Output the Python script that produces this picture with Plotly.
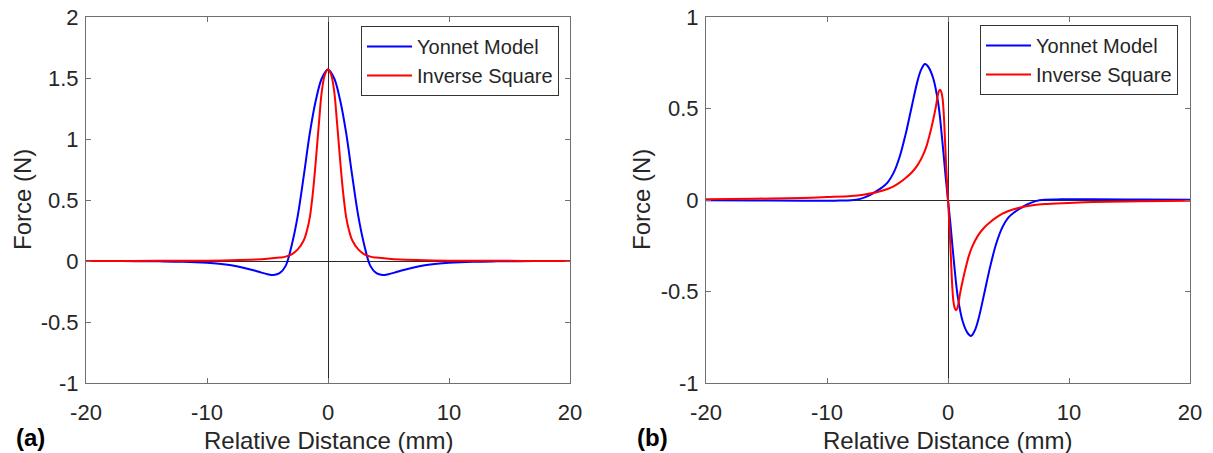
import plotly.graph_objects as go

# ---------------- data ----------------
# Panel (a): attraction force vs relative distance
a_yonnet_x = [-20, -17, -14, -12, -10, -9, -8, -7, -6, -5.5, -5, -4.5, -4, -3.5, -3, -2.5, -2, -1.5, -1, -0.5, 0,
              0.5, 1, 1.5, 2, 2.5, 3, 3.5, 4, 4.5, 5, 5.5, 6, 7, 8, 9, 10, 12, 14, 17, 20]
a_yonnet_y = [0, -0.001, -0.003, -0.006, -0.014, -0.022, -0.035, -0.055, -0.08, -0.095, -0.108, -0.115, -0.10, -0.04,
              0.13, 0.37, 0.70, 1.05, 1.32, 1.50, 1.57,
              1.50, 1.32, 1.05, 0.70, 0.37, 0.13, -0.04, -0.10, -0.115, -0.108, -0.095, -0.08, -0.055, -0.035,
              -0.022, -0.014, -0.006, -0.003, -0.001, 0]

a_inv_x = [-20, -16, -13, -10, -8, -6, -5, -4, -3.5, -3, -2.5, -2, -1.75, -1.5, -1.25, -1, -0.75, -0.5, -0.25, 0,
           0.25, 0.5, 0.75, 1, 1.25, 1.5, 1.75, 2, 2.5, 3, 3.5, 4, 5, 6, 8, 10, 13, 16, 20]
a_inv_y = [0.0004, 0.001, 0.0015, 0.003, 0.006, 0.012, 0.018, 0.028, 0.036, 0.055, 0.095, 0.17, 0.245, 0.36, 0.56,
           0.83, 1.13, 1.40, 1.53, 1.57,
           1.53, 1.40, 1.13, 0.83, 0.56, 0.36, 0.245, 0.17, 0.095, 0.055, 0.036, 0.028, 0.018, 0.012, 0.006,
           0.003, 0.0015, 0.001, 0.0004]

# Panel (b): lateral force vs relative distance
b_yonnet_x = [-20, -16, -12, -10, -9, -8, -7.25, -6.5, -6, -5.5, -5, -4.5, -4, -3.5, -3, -2.5, -2.2, -1.9, -1.6,
              -1.2, -0.8, -0.5, -0.2, 0,
              0.2, 0.5, 0.8, 1.2, 1.6, 1.9, 2.2, 2.5, 3, 3.5, 4, 4.5, 5, 5.5, 6, 6.5, 7.25, 8, 9, 10, 12, 16, 20]
b_yonnet_y = [-0.002, -0.003, -0.004, -0.004, -0.003, -0.001, 0.006, 0.025, 0.045, 0.066, 0.095, 0.148, 0.235,
              0.36, 0.51, 0.655, 0.715, 0.743, 0.725, 0.66, 0.525, 0.345, 0.13, 0,
              -0.13, -0.345, -0.525, -0.66, -0.725, -0.743, -0.715, -0.655, -0.51, -0.36, -0.235, -0.148, -0.095,
              -0.066, -0.045, -0.025, -0.006, 0.001, 0.003, 0.004, 0.004, 0.003, 0.002]

b_inv_x = [-20, -16, -12, -10, -8, -7, -6, -5, -4.5, -4, -3.5, -3, -2.5, -2, -1.75, -1.5, -1.25, -1, -0.85, -0.75,
           -0.66, -0.55, -0.45, -0.35, -0.25, -0.15, 0,
           0.15, 0.25, 0.35, 0.45, 0.55, 0.66, 0.75, 0.85, 1, 1.25, 1.5, 1.75, 2, 2.5, 3, 3.5, 4, 4.5, 5, 6, 7, 8,
           10, 12, 16, 20]
b_inv_y = [0.004, 0.007, 0.011, 0.016, 0.022, 0.029, 0.041, 0.060, 0.075, 0.095, 0.12, 0.15, 0.192, 0.255, 0.30,
           0.36, 0.43, 0.51, 0.57, 0.595, 0.603, 0.59, 0.555, 0.47, 0.33, 0.18, 0,
           -0.18, -0.33, -0.47, -0.555, -0.59, -0.603, -0.595, -0.57, -0.51, -0.43, -0.36, -0.30, -0.255, -0.192,
           -0.15, -0.12, -0.095, -0.075, -0.060, -0.041, -0.029, -0.022, -0.016, -0.011, -0.007, -0.004]

series_names = ["Yonnet Model", "Inverse Square"]
series_colors = ["#0000FF", "#FF0000"]

x_ticks = [-20, -10, 0, 10, 20]
x_ticktext = ["-20", "-10", "0", "10", "20"]
a_y_ticks = [-1, -0.5, 0, 0.5, 1, 1.5, 2]
a_y_ticktext = ["-1", "-0.5", "0", "0.5", "1", "1.5", "2"]
b_y_ticks = [-1, -0.5, 0, 0.5, 1]
b_y_ticktext = ["-1", "-0.5", "0", "0.5", "1"]

x_title = "Relative Distance (mm)"
y_title = "Force (N)"
panel_labels = ["(a)", "(b)"]

# ---------------- figure ----------------
W, H = 1213, 453
FONT = "Arial, Liberation Sans, sans-serif"
AXC = "#707070"
TXT = "#262626"

fig = go.Figure()
line_shape = dict(width=2, shape="spline", smoothing=1.0)

fig.add_trace(go.Scatter(x=a_yonnet_x, y=a_yonnet_y, mode="lines", name=series_names[0],
                         line=dict(color=series_colors[0], **line_shape), xaxis="x", yaxis="y", legend="legend"))
fig.add_trace(go.Scatter(x=a_inv_x, y=a_inv_y, mode="lines", name=series_names[1],
                         line=dict(color=series_colors[1], **line_shape), xaxis="x", yaxis="y", legend="legend"))
fig.add_trace(go.Scatter(x=b_yonnet_x, y=b_yonnet_y, mode="lines", name=series_names[0],
                         line=dict(color=series_colors[0], **line_shape), xaxis="x2", yaxis="y2", legend="legend2"))
fig.add_trace(go.Scatter(x=b_inv_x, y=b_inv_y, mode="lines", name=series_names[1],
                         line=dict(color=series_colors[1], **line_shape), xaxis="x2", yaxis="y2", legend="legend2"))


def px_x(p):
    return p / W


def px_y(p):
    return 1 - p / H


common_axis = dict(showline=True, linecolor=AXC, linewidth=1, mirror="ticks", ticks="inside", ticklen=5,
                   tickcolor=AXC, tickwidth=1, showgrid=False, zeroline=True, zerolinecolor="#2a2a2a",
                   zerolinewidth=1, automargin=False, tickfont=dict(family=FONT, size=22, color=TXT))

ydom = [px_y(383), px_y(17)]

legend_style = dict(xanchor="right", yanchor="top", bgcolor="white", bordercolor="#333333", borderwidth=1,
                    font=dict(family=FONT, size=20, color=TXT), tracegroupgap=0, itemwidth=45)

fig.update_layout(
    width=W, height=H,
    margin=dict(l=0, r=0, t=0, b=0, autoexpand=False),
    paper_bgcolor="white", plot_bgcolor="white",
    font=dict(family=FONT, color=TXT),
    xaxis=dict(domain=[px_x(86), px_x(570)], range=[-20, 20], tickvals=x_ticks, ticktext=x_ticktext,
               anchor="y", ticklabelstandoff=10, **common_axis),
    yaxis=dict(domain=ydom, range=[-1, 2], tickvals=a_y_ticks, ticktext=a_y_ticktext,
               anchor="x", ticklabelstandoff=2, **common_axis),
    xaxis2=dict(domain=[px_x(706), px_x(1190)], range=[-20, 20], tickvals=x_ticks, ticktext=x_ticktext,
                anchor="y2", ticklabelstandoff=10, **common_axis),
    yaxis2=dict(domain=ydom, range=[-1, 1], tickvals=b_y_ticks, ticktext=b_y_ticktext,
                anchor="x2", ticklabelstandoff=2, **common_axis),
    legend=dict(x=px_x(559), y=px_y(26), **legend_style),
    legend2=dict(x=px_x(1178), y=px_y(25), **legend_style),
    showlegend=True,
)

ann = []
for cx in (328, 948):
    ann.append(dict(text=x_title, x=px_x(cx), y=px_y(440), xref="paper", yref="paper", xanchor="center",
                    yanchor="middle", showarrow=False, font=dict(family=FONT, size=24, color=TXT)))
for cx in (22, 641):
    ann.append(dict(text=y_title, x=px_x(cx), y=px_y(200), xref="paper", yref="paper", xanchor="center",
                    yanchor="middle", textangle=-90, showarrow=False, font=dict(family=FONT, size=24, color=TXT)))
for lbl, cx in zip(panel_labels, (30, 652)):
    ann.append(dict(text="<b>" + lbl + "</b>", x=px_x(cx), y=px_y(437), xref="paper", yref="paper",
                    xanchor="center", yanchor="middle", showarrow=False,
                    font=dict(family=FONT, size=24, color="black")))
fig.update_layout(annotations=ann)

fig.write_html("out.html", config={"displayModeBar": False},
               post_script="document.body.style.margin='0';document.body.style.overflow='hidden';")
